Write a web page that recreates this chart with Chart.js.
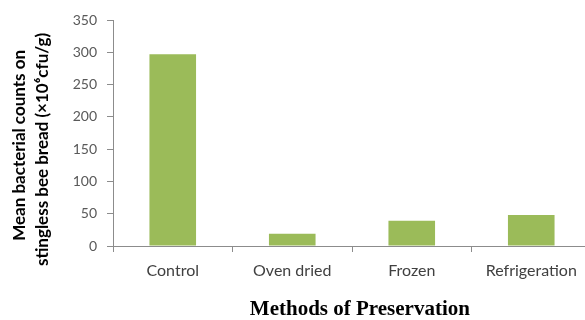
<!DOCTYPE html>
<html>
<head>
<meta charset="utf-8">
<script src="https://cdn.jsdelivr.net/npm/chart.js@4.4.0/dist/chart.umd.min.js"></script>
<style>
  html, body { margin: 0; padding: 0; background: #fff; overflow: hidden; }
  #wrap { position: absolute; left: 0; top: 0; width: 600px; height: 320px; }
</style>
</head>
<body>
<div id="wrap"><canvas id="chartCanvas"></canvas></div>
<script>
// values
const methods = ['Control', 'Oven dried', 'Frozen', 'Refrigeration'];
const bacterialCounts = [297, 19, 39, 48];
const yTicks = [0, 50, 100, 150, 200, 250, 300, 350];

const axisGray = '#8c8c8c';

document.addEventListener('DOMContentLoaded', function() {
    const ctx = document.getElementById('chartCanvas').getContext('2d');
    new Chart(ctx, {
        type: 'bar',
        data: {
            labels: methods,
            datasets: [{
                label: 'Mean bacterial counts',
                data: bacterialCounts,
                backgroundColor: '#9bbb59',
                borderWidth: 0,
                barPercentage: 0.39,
                categoryPercentage: 1.0
            }]
        },
        options: {
            responsive: true,
            maintainAspectRatio: false,
            animation: false,
            layout: { padding: { left: 0, right: 9, top: 20, bottom: 0 } },
            plugins: {
                legend: { display: false },
                tooltip: { enabled: false }
            },
            scales: {
                x: {
                    grid: {
                        drawOnChartArea: false,
                        color: axisGray,
                        tickLength: 6,
                        offset: true
                    },
                    border: { color: axisGray, width: 1 },
                    ticks: {
                        color: '#404040',
                        font: { family: 'Lato', size: 16 },
                        padding: 9,
                        maxRotation: 0
                    },
                    title: {
                        display: true,
                        text: '   Methods of Preservation',
                        color: '#000',
                        font: { family: 'Liberation Serif', size: 21, weight: 'bold', lineHeight: 1.0 },
                        padding: { top: 14, bottom: 0 }
                    },
                    afterFit: function(scale) { scale.height = 74; }
                },
                y: {
                    min: 0,
                    max: 350,
                    afterBuildTicks: function(scale) {
                        scale.ticks = yTicks.map(v => ({ value: v }));
                    },
                    grid: {
                        drawOnChartArea: false,
                        color: axisGray,
                        tickLength: 6
                    },
                    border: { color: axisGray, width: 1 },
                    ticks: {
                        color: '#595959',
                        font: { family: 'Lato', size: 14 },
                        padding: 10
                    },
                    title: {
                        display: true,
                        // trailing spaces push the centred lines a little lower, as in the original
                        text: ['Mean bacterial counts on      ', 'stingless bee bread (\u00d710\u2076cfu/g)        '],
                        color: '#000',
                        font: { family: 'Lato', size: 17, weight: 'bold', lineHeight: 1.35 },
                        padding: { top: 8, bottom: 0 }
                    },
                    afterFit: function(scale) { scale.width = 113; }
                }
            }
        }
    });
});
</script>
</body>
</html>
